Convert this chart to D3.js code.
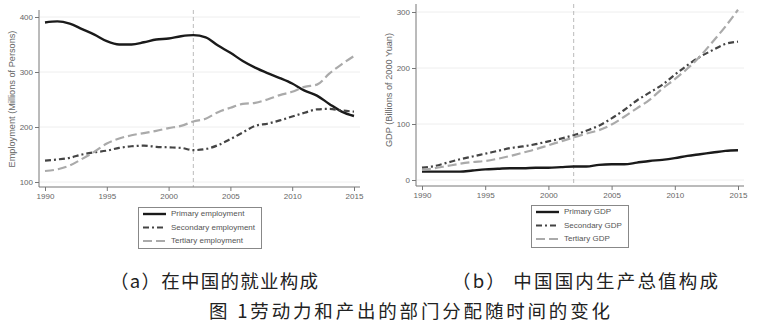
<!DOCTYPE html>
<html>
<head>
<meta charset="utf-8">
<script src="https://cdn.jsdelivr.net/npm/d3@7"></script>
<style>
  html, body { margin: 0; padding: 0; background: #fff; }
  svg { display: block; }
  .tick text { font-family: "Liberation Sans", Arial, sans-serif; font-size: 8px; fill: #666; }
  .tick line { stroke: #777; }
</style>
</head>
<body>
<svg id="chart" width="761" height="325"></svg>
<script>
const years = d3.range(1990, 2016);
const empPrimary   = [390,392,388,378,368,356,350,350,354,359,361,365,367,363,348,335,320,308,298,289,279,266,257,242,228,220];
const empSecondary = [139,141,144,150,154,157,162,165,166,164,163,162,158,160,167,178,190,202,206,212,219,226,232,233,230,228];
const empTertiary  = [120,123,130,142,155,170,179,185,189,193,198,202,210,215,227,235,242,244,250,258,264,273,277,297,314,329];
const gdpPrimary   = [15,15,15,15,17,19,20,21,21,22,22,23,24,24,27,28,28,31,34,36,39,43,46,49,52,53];
const gdpSecondary = [22,25,31,37,42,47,52,57,60,64,69,74,80,88,97,110,125,142,156,170,188,205,220,232,243,247];
const gdpTertiary  = [18,21,25,29,32,34,38,43,49,55,62,69,76,83,89,99,113,128,143,163,180,199,221,247,274,304];
const xTicks = [1990,1995,2000,2005,2010,2015];
const empTicks = [100,200,300,400];
const gdpTicks = [0,100,200,300];
const breakYear = 2002;
const empLegend = ["Primary employment","Secondary employment","Tertiary employment"];
const gdpLegend = ["Primary GDP","Secondary GDP","Tertiary GDP"];
const captionA = "（a）在中国的就业构成";
const captionB = "（b） 中国国内生产总值构成";
const captionMain = "图 1劳动力和产出的部门分配随时间的变化";

const styles = [
  {stroke:"#1a1a1a", width:2.4, dash:null},
  {stroke:"#444", width:2.2, dash:"6,3,2,3"},
  {stroke:"#aaa", width:2.2, dash:"9,4"}
];

const svg = d3.select("#chart");
const font = '"Liberation Sans", Arial, sans-serif';

function panel(cfg) {
  const g = svg.append("g");
  const x = d3.scaleLinear().domain([1990,2015]).range(cfg.xr);
  const y = d3.scaleLinear().domain(cfg.yd).range(cfg.yr);
  g.selectAll(".grid").data(cfg.yTicks).join("line")
    .attr("x1", cfg.axisX+1).attr("x2", cfg.right)
    .attr("y1", d => y(d)).attr("y2", d => y(d))
    .attr("stroke", "#eeeeee").attr("stroke-width", 1);
  g.append("line")
    .attr("x1", x(breakYear)).attr("x2", x(breakYear))
    .attr("y1", cfg.top).attr("y2", cfg.axisY)
    .attr("stroke", "#bbb").attr("stroke-width", 1).attr("stroke-dasharray", "4,3");
  const ya = g.append("g").attr("transform", `translate(${cfg.axisX},0)`)
    .call(d3.axisLeft(y).tickValues(cfg.yTicks).tickSize(4).tickPadding(2));
  ya.select(".domain").remove();
  const xa = g.append("g").attr("transform", `translate(0,${cfg.axisY})`)
    .call(d3.axisBottom(x).tickValues(xTicks).tickFormat(d3.format("d")).tickSize(4).tickPadding(2));
  xa.select(".domain").remove();
  g.append("line").attr("x1", cfg.axisX).attr("x2", cfg.axisX).attr("y1", cfg.top).attr("y2", cfg.axisY)
    .attr("stroke", "#777").attr("stroke-width", 1);
  g.append("line").attr("x1", cfg.axisX).attr("x2", cfg.right).attr("y1", cfg.axisY).attr("y2", cfg.axisY)
    .attr("stroke", "#777").attr("stroke-width", 1);
  g.append("text")
    .attr("transform", `translate(${cfg.titleX},${cfg.titleY}) rotate(-90)`)
    .attr("text-anchor", "middle").attr("dominant-baseline", "middle")
    .attr("font-family", font).attr("font-size", 9.2).attr("fill", "#666")
    .text(cfg.title);
  const line = d3.line().x((d,i) => x(years[i])).y(d => y(d)).curve(d3.curveMonotoneX);
  cfg.series.forEach((s, i) => {
    g.append("path").datum(s).attr("d", line).attr("fill", "none")
      .attr("stroke", styles[i].stroke).attr("stroke-width", styles[i].width)
      .attr("stroke-dasharray", styles[i].dash).attr("stroke-linejoin", "round");
  });
  const L = cfg.legend;
  g.append("rect").attr("x", L.x+0.5).attr("y", L.y+0.5).attr("width", L.w).attr("height", L.h)
    .attr("fill", "#fff").attr("stroke", "#888").attr("stroke-width", 1);
  cfg.labels.forEach((lab, i) => {
    const yy = L.y + 7 + i * 13.5;
    g.append("line").attr("x1", L.x + 5).attr("x2", L.x + 28).attr("y1", yy).attr("y2", yy)
      .attr("stroke", styles[i].stroke).attr("stroke-width", styles[i].width)
      .attr("stroke-dasharray", styles[i].dash);
    g.append("text").attr("x", L.x + 33).attr("y", yy).attr("dominant-baseline", "middle")
      .attr("font-family", font).attr("font-size", 8).attr("fill", "#555").text(lab);
  });
}

panel({
  xr:[45,354], yd:[100,400], yr:[182,17], axisX:39, axisY:187, top:10, right:360,
  yTicks: empTicks, title:"Employment (Millions of Persons)", titleX:13, titleY:99,
  series:[empPrimary, empSecondary, empTertiary], labels: empLegend,
  legend:{x:138, y:207, w:123, h:41}
});
panel({
  xr:[422,738], yd:[0,300], yr:[180,12], axisX:416, axisY:186, top:4, right:744,
  yTicks: gdpTicks, title:"GDP (Billions of 2000 Yuan)", titleX:390, titleY:90,
  series:[gdpPrimary, gdpSecondary, gdpTertiary], labels: gdpLegend,
  legend:{x:531, y:205, w:97, h:42}
});

const cjk = '"Noto Sans CJK SC", "Noto Sans", sans-serif';
function caption(txt, x, y, len) {
  svg.append("text").attr("x", x).attr("y", y).attr("font-family", cjk).attr("font-size", 18.5)
    .attr("fill", "#222").attr("textLength", len).attr("lengthAdjust", "spacing")
    .style("white-space", "pre").text(txt);
}
caption(captionA, 110, 288, 208);
caption(captionB, 452, 288, 266);
caption(captionMain, 209, 318, 401);
</script>
</body>
</html>
